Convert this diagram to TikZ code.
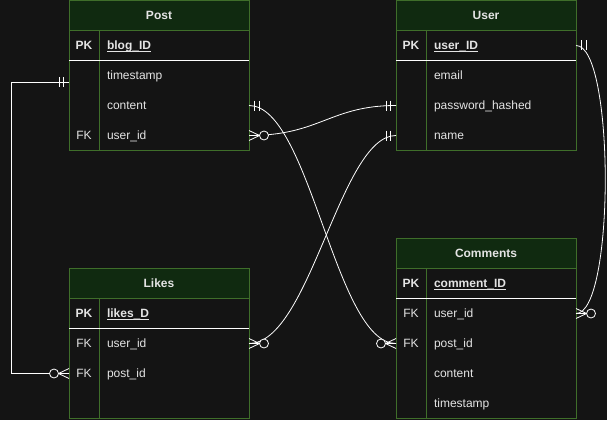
\documentclass[tikz,border=0pt]{standalone}
\usepackage{fontspec}
\setmainfont{Liberation Sans}
\definecolor{bg}{HTML}{141414}
\definecolor{hdrfill}{HTML}{102A10}
\definecolor{bord}{HTML}{3F6E2A}
\definecolor{txt}{HTML}{E4E4E4}
\newcommand\ulnode[1]{\draw[txt, line width=0.8pt] ([yshift=-1.6pt]#1.south west) -- ([yshift=-1.6pt]#1.south east);}
\tikzset{
  hdr/.style={draw=bord, fill=hdrfill, line width=0.8pt, minimum width=180pt, minimum height=30pt,
    inner sep=0pt, outer sep=0pt, text=txt, font=\fontsize{12}{14}\selectfont\bfseries, anchor=north west},
  tbody/.style={draw=bord, fill=bg, line width=0.8pt, minimum width=180pt, inner sep=0pt, outer sep=0pt, anchor=north west},
  rowbox/.style={minimum width=180pt, minimum height=30pt, inner sep=0pt, outer sep=0pt, anchor=north west},
  keytxt/.style={text=txt, font=\fontsize{12}{14}\selectfont, inner sep=0pt, outer sep=0pt, text height=8.6pt, text depth=0pt},
  fldtxt/.style={keytxt, anchor=west},
  pkstyle/.style={font=\fontsize{12}{14}\selectfont\bfseries},
  conn/.style={draw=white, line width=0.8pt},
  sepline/.style={draw=white, line width=0.8pt},
  divline/.style={draw=bord, line width=0.8pt},
  mandone/.pic={\draw[conn] (5.5,-5)--(5.5,5) (10,-5)--(10,5);},
  zeromany/.pic={\draw[conn] (0,-5)--(10.5,0)--(0,5) (0,0)--(10.5,0); \draw[conn, fill=bg] (15,0) circle[radius=4.5];},
}
\begin{document}
\begin{tikzpicture}[x=1pt, y=-1pt]
\fill[bg] (0,0) rectangle (607,420);
\useasboundingbox (0,0) rectangle (607,420);

% ---------- Post ----------
\node[hdr] (post) at (69,0.5) {Post};
\node[tbody, minimum height=120pt] (postbody) at (post.south west) {};
\node[rowbox] (post-pk) at (post.south west) {};
\node[rowbox] (post-ts) at (post-pk.south west) {};
\node[rowbox] (post-content) at (post-ts.south west) {};
\node[rowbox] (post-user) at (post-content.south west) {};
\draw[divline] ([xshift=30pt]postbody.north west) -- ([xshift=30pt]postbody.south west);
\draw[sepline] (post-pk.south west) -- (post-pk.south east);
\node[keytxt, pkstyle] (post-pkk) at ([xshift=15pt]post-pk.west) {PK};
\node[fldtxt, pkstyle] (post-pkt) at ([xshift=38pt]post-pk.west) {blog\_ID};
\ulnode{post-pkt}
\node[fldtxt] (post-tst) at ([xshift=38pt]post-ts.west) {timestamp};
\node[fldtxt] (post-contentt) at ([xshift=38pt]post-content.west) {content};
\node[keytxt] (post-userk) at ([xshift=15pt]post-user.west) {FK};
\node[fldtxt] (post-usert) at ([xshift=38pt]post-user.west) {user\_id};

% ---------- User ----------
\node[hdr] (user) at (396,0.5) {User};
\node[tbody, minimum height=120pt] (userbody) at (user.south west) {};
\node[rowbox] (user-pk) at (user.south west) {};
\node[rowbox] (user-email) at (user-pk.south west) {};
\node[rowbox] (user-pw) at (user-email.south west) {};
\node[rowbox] (user-name) at (user-pw.south west) {};
\draw[divline] ([xshift=30pt]userbody.north west) -- ([xshift=30pt]userbody.south west);
\draw[sepline] (user-pk.south west) -- (user-pk.south east);
\node[keytxt, pkstyle] (user-pkk) at ([xshift=15pt]user-pk.west) {PK};
\node[fldtxt, pkstyle] (user-pkt) at ([xshift=38pt]user-pk.west) {user\_ID};
\ulnode{user-pkt}
\node[fldtxt] (user-emailt) at ([xshift=38pt]user-email.west) {email};
\node[fldtxt] (user-pwt) at ([xshift=38pt]user-pw.west) {password\_hashed};
\node[fldtxt] (user-namet) at ([xshift=38pt]user-name.west) {name};

% ---------- Likes ----------
\node[hdr] (likes) at (69,268.5) {Likes};
\node[tbody, minimum height=120pt] (likesbody) at (likes.south west) {};
\node[rowbox] (likes-pk) at (likes.south west) {};
\node[rowbox] (likes-user) at (likes-pk.south west) {};
\node[rowbox] (likes-post) at (likes-user.south west) {};
\draw[divline] ([xshift=30pt]likesbody.north west) -- ([xshift=30pt]likesbody.south west);
\draw[sepline] (likes-pk.south west) -- (likes-pk.south east);
\node[keytxt, pkstyle] (likes-pkk) at ([xshift=15pt]likes-pk.west) {PK};
\node[fldtxt, pkstyle] (likes-pkt) at ([xshift=38pt]likes-pk.west) {likes\_D};
\ulnode{likes-pkt}
\node[keytxt] (likes-userk) at ([xshift=15pt]likes-user.west) {FK};
\node[fldtxt] (likes-usert) at ([xshift=38pt]likes-user.west) {user\_id};
\node[keytxt] (likes-postk) at ([xshift=15pt]likes-post.west) {FK};
\node[fldtxt] (likes-postt) at ([xshift=38pt]likes-post.west) {post\_id};

% ---------- Comments ----------
\node[hdr] (com) at (396,238.5) {Comments};
\node[tbody, minimum height=150pt] (combody) at (com.south west) {};
\node[rowbox] (com-pk) at (com.south west) {};
\node[rowbox] (com-user) at (com-pk.south west) {};
\node[rowbox] (com-post) at (com-user.south west) {};
\node[rowbox] (com-content) at (com-post.south west) {};
\node[rowbox] (com-ts) at (com-content.south west) {};
\draw[divline] ([xshift=30pt]combody.north west) -- ([xshift=30pt]combody.south west);
\draw[sepline] (com-pk.south west) -- (com-pk.south east);
\node[keytxt, pkstyle] (com-pkk) at ([xshift=15pt]com-pk.west) {PK};
\node[fldtxt, pkstyle] (com-pkt) at ([xshift=38pt]com-pk.west) {comment\_ID};
\ulnode{com-pkt}
\node[keytxt] (com-userk) at ([xshift=15pt]com-user.west) {FK};
\node[fldtxt] (com-usert) at ([xshift=38pt]com-user.west) {user\_id};
\node[keytxt] (com-postk) at ([xshift=15pt]com-post.west) {FK};
\node[fldtxt] (com-postt) at ([xshift=38pt]com-post.west) {post\_id};
\node[fldtxt] (com-contentt) at ([xshift=38pt]com-content.west) {content};
\node[fldtxt] (com-tst) at ([xshift=38pt]com-ts.west) {timestamp};

% ---------- Connectors ----------
\coordinate (post-left) at ([yshift=8.5pt]post-ts.south west);
\draw[conn] (post-left) -- ++(-58,0) |- (likes-post.west);
\draw[conn] (post-user.east) .. controls +(71,0) and +(-66,0) .. (user-pw.west);
\draw[conn] (post-content.east) .. controls +(61,0) and +(-61,0) .. (com-post.west);
\draw[conn] (user-name.west) .. controls +(-56,0) and +(61,0) .. (likes-user.east);
\draw[conn] (user-pk.east) .. controls +(39,0) and +(39,0) .. (com-user.east);

\path (post-left) pic[xscale=-1] {mandone};
\path (likes-post.west) pic[xscale=-1] {zeromany};
\path (post-user.east) pic {zeromany};
\path (user-pw.west) pic[xscale=-1] {mandone};
\path (post-content.east) pic {mandone};
\path (com-post.west) pic[xscale=-1] {zeromany};
\path (user-name.west) pic[xscale=-1] {mandone};
\path (likes-user.east) pic {zeromany};
\path (user-pk.east) pic {mandone};
\path (com-user.east) pic {zeromany};
\end{tikzpicture}
\end{document}
